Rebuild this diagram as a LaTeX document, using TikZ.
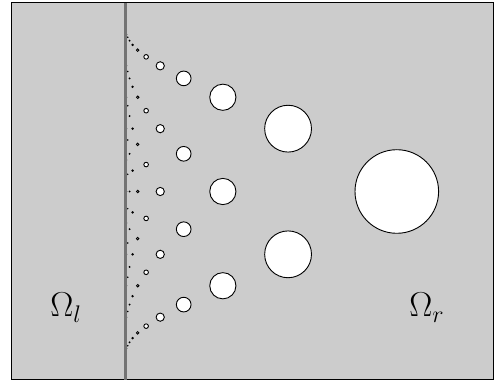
\documentclass[tikz,border=0pt]{standalone}
\usepackage{tikz}
\begin{document}
\begin{tikzpicture}[x=0.5pt, y=-0.5pt,
  region/.style={draw=black, line width=0.5pt, fill=black!20},
  wall/.style={draw=black!55, line width=1.5pt},
  hole/.style={draw=black, line width=0.45pt, fill=white},
  lbl/.style={font=\LARGE, inner sep=0pt}
]
\useasboundingbox (0,0) rectangle (494,385);
\draw[region] (11,3) rectangle (493,380);
% column k: k+1 holes, spacing shrinks towards the interface
\foreach \k in {0,...,12} {
  \pgfmathsetmacro{\xc}{125+271.8*0.6^\k}
  \pgfmathsetmacro{\rc}{41.8*0.56^\k}
  \pgfmathsetmacro{\dy}{377/(\k+2)}
  \foreach \j in {0,...,\k} {
    \draw[hole] (\xc, 3+\dy*\j+\dy) circle[radius=\rc];
  }
}
\draw[wall] (125,3) -- (125,380);
\node[lbl, anchor=base west] (omegal) at (50,317) {$\Omega_l$};
\node[lbl, anchor=base west] (omegar) at (409,317) {$\Omega_r$};
\end{tikzpicture}
\end{document}
